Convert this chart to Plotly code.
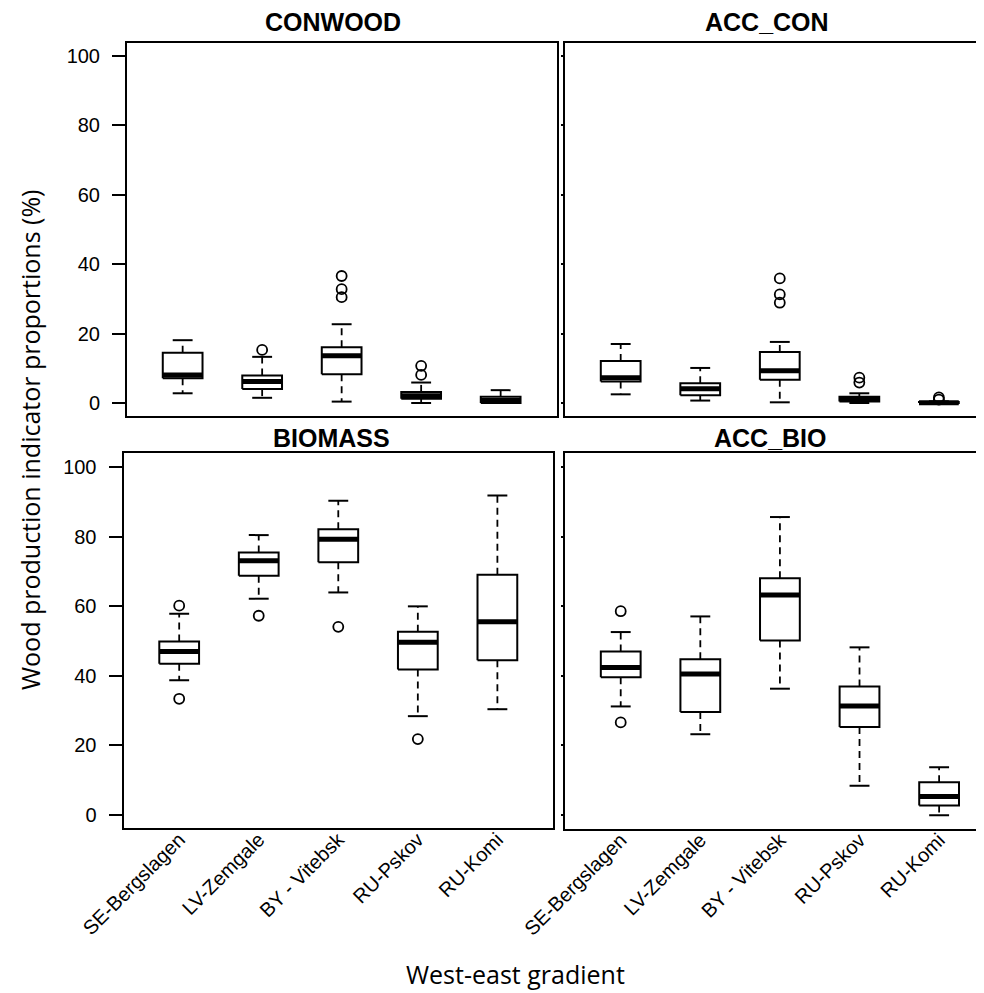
import plotly.graph_objects as go

W, H = 984, 993
OFF = 8  # page body margin in the browser

categories = ["SE-Bergslagen", "LV-Zemgale", "BY - Vitebsk", "RU-Pskov", "RU-Komi"]
y_ticks = [0, 20, 40, 60, 80, 100]

# CONWOOD
con_low = [2.8, 1.5, 0.4, 0.0, 0.0]
con_q1 = [7.1, 4.0, 8.3, 1.2, 0.0]
con_med = [8.1, 6.2, 13.6, 2.1, 0.7]
con_q3 = [14.5, 7.9, 16.1, 3.2, 1.8]
con_high = [18.1, 13.3, 22.7, 5.9, 3.7]
con_out = [[], [15.3], [30.5, 32.8, 36.6], [8.1, 10.7], []]

# ACC_CON
acon_low = [2.5, 0.7, 0.2, 0.0, 0.0]
acon_q1 = [6.2, 2.2, 6.7, 0.4, 0.0]
acon_med = [7.3, 4.1, 9.3, 1.2, 0.1]
acon_q3 = [12.1, 5.7, 14.7, 1.8, 0.3]
acon_high = [17.0, 10.1, 17.6, 2.8, 0.5]
acon_out = [[], [], [28.9, 31.3, 35.9], [5.9, 7.3], [1.0, 1.6]]

# BIOMASS
bio_low = [38.6, 62.1, 63.9, 28.3, 30.3]
bio_q1 = [43.4, 68.7, 72.6, 41.7, 44.4]
bio_med = [46.9, 73.0, 79.2, 49.6, 55.5]
bio_q3 = [49.8, 75.4, 82.1, 52.6, 69.0]
bio_high = [57.8, 80.4, 90.3, 59.9, 91.8]
bio_out = [[33.3, 60.1], [57.2], [54.0], [21.7], []]

# ACC_BIO
abio_low = [31.1, 23.1, 36.2, 8.3, -0.2]
abio_q1 = [39.5, 29.5, 50.1, 25.2, 2.6]
abio_med = [42.3, 40.4, 63.2, 31.2, 5.2]
abio_q3 = [46.9, 44.7, 68.0, 36.8, 9.3]
abio_high = [52.5, 57.0, 85.6, 48.1, 13.6]
abio_out = [[26.5, 58.5], [], [], [], []]

panels = [
    ("CONWOOD", con_low, con_q1, con_med, con_q3, con_high, con_out),
    ("ACC_CON", acon_low, acon_q1, acon_med, acon_q3, acon_high, acon_out),
    ("BIOMASS", bio_low, bio_q1, bio_med, bio_q3, bio_high, bio_out),
    ("ACC_BIO", abio_low, abio_q1, abio_med, abio_q3, abio_high, abio_out),
]

def px(x):
    return (x - OFF) / W

def py(y):
    return 1 - (y - OFF) / H

# panel geometry in screen pixels: (left, right, top, bottom)
geo = [
    (127.0, 556.5, 42.7, 416.0),
    (565.0, 992.0, 42.7, 416.0),
    (123.5, 553.2, 453.0, 828.0),
    (565.0, 992.0, 453.0, 828.5),
]
spacing = [79.5, 79.55, 79.55, 79.6]
zero_px = [403.0, 403.0, 814.5, 814.5]
unit_px = [3.47, 3.47, 3.475, 3.475]

fig = go.Figure()
HALF = 0.25
CAP = 0.125
FONT = "Liberation Sans, Arial, sans-serif"
TFONT = "Open Sans, Noto Sans, sans-serif"

for p, (name, low, q1, med, q3, high, outs) in enumerate(panels):
    xa = "x" if p == 0 else f"x{p+1}"
    ya = "y" if p == 0 else f"y{p+1}"
    bx, by, mx, my, wx, wy, cx, cy, ox, oy = [], [], [], [], [], [], [], [], [], []
    for i in range(len(categories)):
        xi = i + 1
        bx += [xi - HALF, xi + HALF, xi + HALF, xi - HALF, xi - HALF, None]
        by += [q1[i], q1[i], q3[i], q3[i], q1[i], None]
        mx += [xi - HALF, xi + HALF, None]
        my += [med[i], med[i], None]
        wx += [xi, xi, None, xi, xi, None]
        wy += [q3[i], high[i], None, q1[i], low[i], None]
        cx += [xi - CAP, xi + CAP, None, xi - CAP, xi + CAP, None]
        cy += [high[i], high[i], None, low[i], low[i], None]
        for v in outs[i]:
            ox.append(xi)
            oy.append(v)
    common = dict(xaxis=xa, yaxis=ya, showlegend=False, hoverinfo="skip")
    fig.add_trace(go.Scatter(x=wx, y=wy, mode="lines",
                             line=dict(color="black", width=1.8, dash="7px,5px"), **common))
    fig.add_trace(go.Scatter(x=cx, y=cy, mode="lines",
                             line=dict(color="black", width=2), **common))
    fig.add_trace(go.Scatter(x=bx, y=by, mode="lines", fill="toself", fillcolor="white",
                             line=dict(color="black", width=2), **common))
    fig.add_trace(go.Scatter(x=mx, y=my, mode="lines",
                             line=dict(color="black", width=5), **common))
    fig.add_trace(go.Scatter(x=ox, y=oy, mode="markers",
                             marker=dict(symbol="circle-open", size=10, color="black",
                                         line=dict(width=1.8)), **common))

    l, r, t, b = geo[p]
    sp = spacing[p]
    xr = [0.3, 0.3 + (r - l) / sp]
    yr = [-(b - zero_px[p]) / unit_px[p], (zero_px[p] - t) / unit_px[p]]
    left_col = p in (0, 2)
    bottom_row = p in (2, 3)
    xkey = "xaxis" if p == 0 else f"xaxis{p+1}"
    ykey = "yaxis" if p == 0 else f"yaxis{p+1}"
    fig.layout[xkey] = dict(
        domain=[px(l), min(1.0, px(r))], range=xr, anchor=ya, automargin=False,
        showgrid=False, zeroline=False,
        showline=True, linecolor="black", linewidth=2, mirror=True,
        tickmode="array", tickvals=[1, 2, 3, 4, 5],
        ticktext=categories if bottom_row else [""] * 5,
        showticklabels=bottom_row, ticks="", tickangle=-45,
        tickfont=dict(family=FONT, size=20, color="black"),
        ticklabelstandoff=-10,
    )
    fig.layout[ykey] = dict(
        domain=[py(b), py(t)], range=yr, anchor=xa, automargin=False,
        showgrid=False, zeroline=False,
        showline=True, linecolor="black", linewidth=2, mirror=left_col,
        tickmode="array", tickvals=y_ticks,
        showticklabels=left_col,
        ticks="outside", ticklen=13 if left_col else 2, tickwidth=1.5, tickcolor="black",
        tickfont=dict(family=FONT, size=20, color="black"),
        ticklabelstandoff=8,
    )

titles = [("CONWOOD", 333, 22.5), ("ACC_CON", 767, 22.5),
          ("BIOMASS", 331, 438), ("ACC_BIO", 770, 438)]
for text, x, y in titles:
    fig.add_annotation(text=f"<b>{text}</b>", x=px(x), y=py(y), xref="paper", yref="paper",
                       showarrow=False, xanchor="center", yanchor="middle",
                       font=dict(family=FONT, size=25, color="black"))

fig.add_annotation(text="Wood production indicator proportions (%)", x=px(30), y=py(440),
                   xref="paper", yref="paper", showarrow=False, textangle=-90,
                   xanchor="center", yanchor="middle",
                   font=dict(family=TFONT, size=25, color="black"))
fig.add_annotation(text="West-east gradient", x=px(515), y=py(974),
                   xref="paper", yref="paper", showarrow=False,
                   xanchor="center", yanchor="middle",
                   font=dict(family=TFONT, size=25, color="black"))

fig.update_layout(width=W, height=H, margin=dict(l=0, r=0, t=0, b=0, autoexpand=False),
                  plot_bgcolor="white", paper_bgcolor="white")

fig.write_html("out.html")
